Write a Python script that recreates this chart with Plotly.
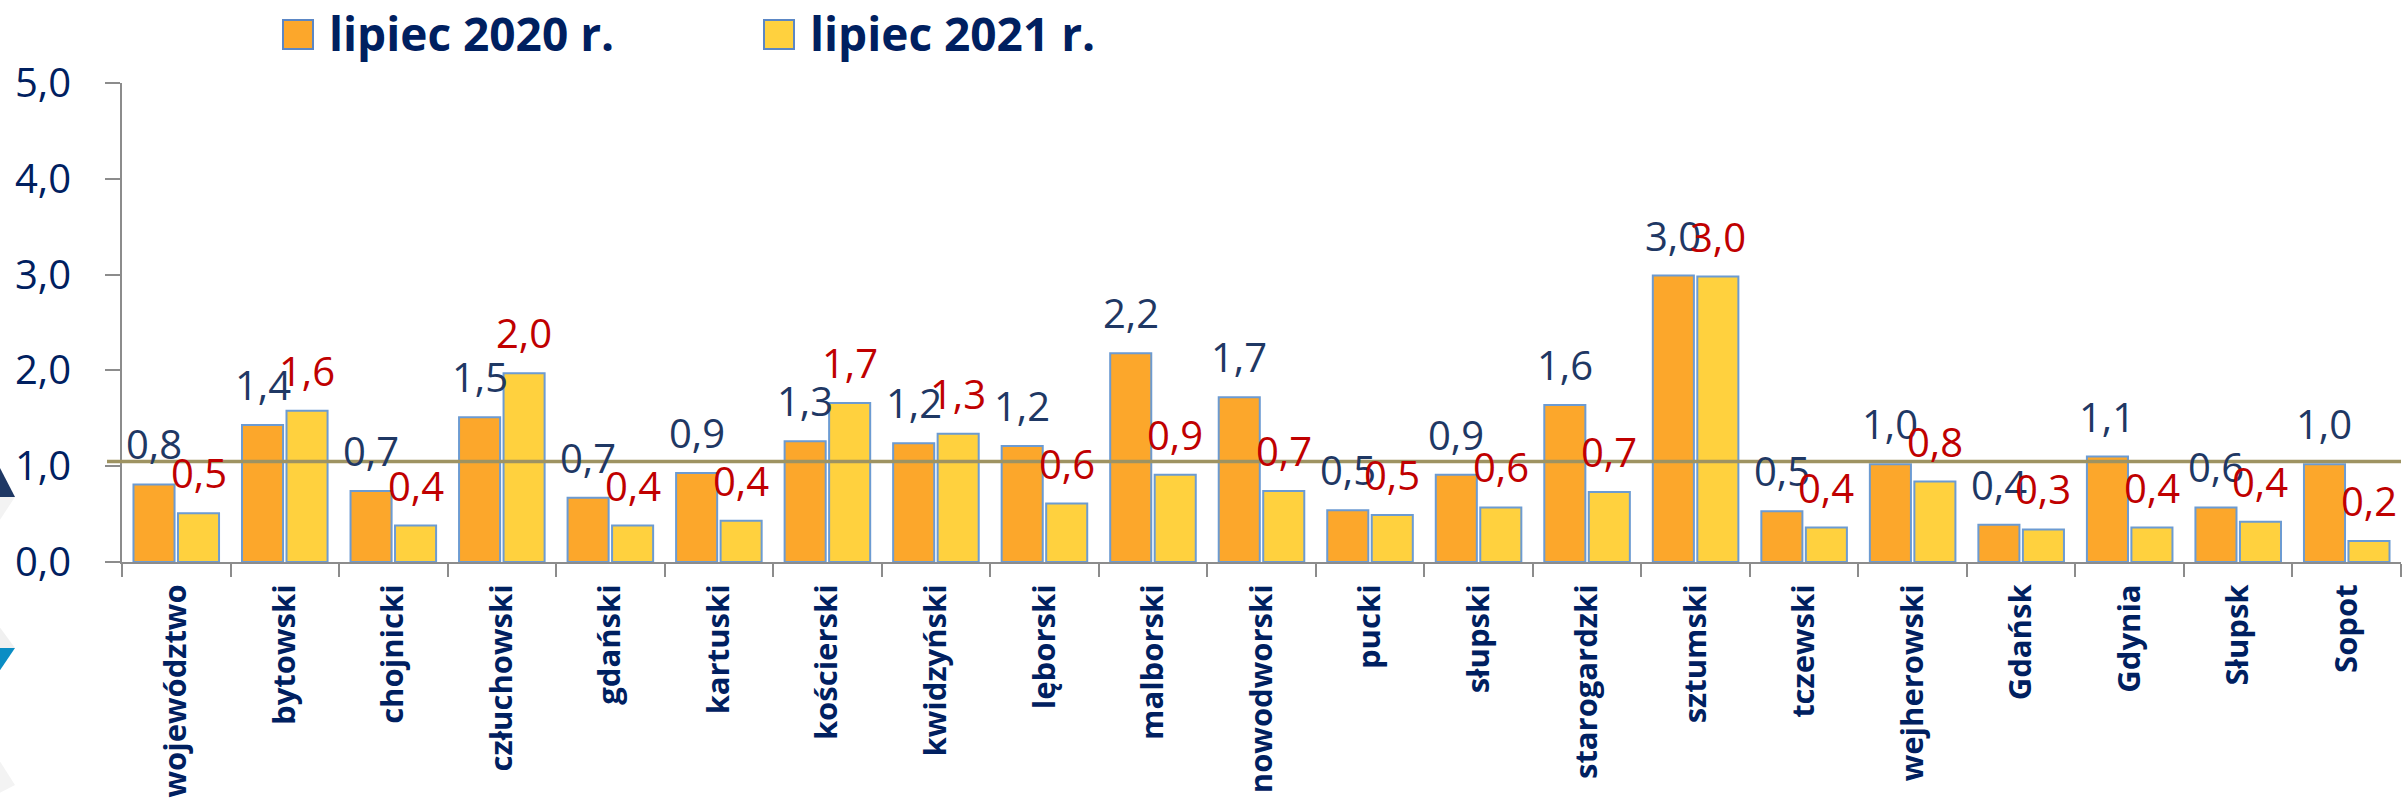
import plotly.graph_objects as go

# ---------------- data ----------------
categories = ["województwo", "bytowski", "chojnicki", "człuchowski", "gdański", "kartuski",
              "kościerski", "kwidzyński", "lęborski", "malborski", "nowodworski", "pucki",
              "słupski", "starogardzki", "sztumski", "tczewski", "wejherowski", "Gdańsk",
              "Gdynia", "Słupsk", "Sopot"]
lipiec_2020 = [0.81, 1.43, 0.74, 1.51, 0.67, 0.93, 1.26, 1.24, 1.21, 2.18, 1.72, 0.54,
               0.91, 1.64, 2.99, 0.53, 1.02, 0.39, 1.10, 0.57, 1.02]
lipiec_2021 = [0.51, 1.58, 0.38, 1.97, 0.38, 0.43, 1.66, 1.34, 0.61, 0.91, 0.74, 0.49,
               0.57, 0.73, 2.98, 0.36, 0.84, 0.34, 0.36, 0.42, 0.22]
series_names = ["lipiec 2020 r.", "lipiec 2021 r."]
reference_level = 1.05
y_ticks = [0, 1, 2, 3, 4, 5]

# ---------------- style ----------------
W, H = 2402, 803
L, R, T, B = 122, 2401, 83, 562          # plot area in pixels
ORANGE, YELLOW = "#FCA72B", "#FFD13E"
OUTLINE = "#6C9BD2"
NAVY = "#002060"
SLATE = "#1F3864"
RED = "#C00000"
AXIS = "#8C8C8C"
OLIVE = "#9E9362"
BARGAP, GROUPGAP = 0.18, 0.077


def px(x):
    return (x - L) / (R - L)


def py(y):
    return (B - y) / (B - T)


def fmt(v):
    return f"{v:.1f}".replace(".", ",")


fig = go.Figure()
for name, vals, col in [(series_names[0], lipiec_2020, ORANGE),
                        (series_names[1], lipiec_2021, YELLOW)]:
    fig.add_trace(go.Bar(
        x=categories, y=vals, name=name,
        marker=dict(color=col, line=dict(color=OUTLINE, width=2)),
        showlegend=False, hoverinfo="x+y",
    ))

# data labels through the axes (centred over each bar)
cat_w = (R - L) / len(categories)
shift = cat_w * (1 - BARGAP) / 4
annotations = []
for vals, col, xs in [(lipiec_2020, SLATE, -shift), (lipiec_2021, RED, shift)]:
    for c, v in zip(categories, vals):
        annotations.append(dict(
            x=c, y=v, xref="x", yref="y", text=fmt(v), showarrow=False,
            xanchor="center", yanchor="bottom", xshift=xs, yshift=11,
            font=dict(family="Open Sans", size=40, color=col),
        ))

# custom legend
shapes = []
for x0, col, name in [(283, ORANGE, series_names[0]), (764, YELLOW, series_names[1])]:
    shapes.append(dict(type="rect", xref="paper", yref="paper",
                       x0=px(x0), x1=px(x0 + 30), y0=py(49), y1=py(20),
                       fillcolor=col, line=dict(color="#5B87C5", width=2), layer="above"))
    annotations.append(dict(x=px(x0 + 44), y=py(33), xref="paper", yref="paper",
                            text=name, showarrow=False, xanchor="left", yanchor="middle",
                            font=dict(family="Open Sans", size=46, color=NAVY, weight="bold")))

# reference line
shapes.append(dict(type="line", xref="paper", yref="y", x0=px(107), x1=1.0,
                   y0=reference_level, y1=reference_level,
                   line=dict(color=OLIVE, width=3.5), layer="above"))

# slide decorations at left edge
def tri(points, color):
    path = "M " + " L ".join(f"{px(a)},{py(b)}" for a, b in points) + " Z"
    return dict(type="path", xref="paper", yref="paper", path=path,
                fillcolor=color, line=dict(width=0), layer="below")

shapes.append(tri([(-30, 410), (15, 497), (-30, 497)], "#1F3864"))
shapes.append(tri([(15, 497), (-20, 550), (-20, 497)], "#F3F3F3"))
shapes.append(tri([(-20, 600), (15, 648), (-20, 648)], "#F0F0F0"))
shapes.append(tri([(-20, 648), (15, 648), (-20, 700)], "#0A8DC4"))
shapes.append(tri([(-20, 730), (15, 785), (-20, 803)], "#F3F3F3"))

fig.update_layout(
    width=W, height=H, autosize=False,
    margin=dict(l=L, r=W - R, t=T, b=H - B, pad=0),
    paper_bgcolor="white", plot_bgcolor="white",
    barmode="group", bargap=BARGAP, bargroupgap=GROUPGAP,
    separators=",.",
    showlegend=False,
    annotations=annotations, shapes=shapes,
    xaxis=dict(
        type="category", showgrid=False, showline=True, linecolor=AXIS, linewidth=2,
        ticks="outside", tickson="boundaries", ticklen=13, tickwidth=2, tickcolor=AXIS,
        tickangle=-90, automargin=False, ticklabelstandoff=8,
        tickfont=dict(family="Open Sans", size=31, color=NAVY, weight="bold"),
        range=[-0.5, len(categories) - 0.5],
    ),
    yaxis=dict(
        range=[0, 5], tickvals=y_ticks, tickformat=".1f", showgrid=False, zeroline=False,
        showline=True, linecolor=AXIS, linewidth=2, ticks="outside", ticklen=15,
        tickwidth=2, tickcolor=AXIS, automargin=False, ticklabelstandoff=26,
        tickfont=dict(family="Open Sans", size=40, color=NAVY),
    ),
)

fig.write_html(
    "out.html",
    config={"displayModeBar": False},
    post_script="document.body.style.margin='0';document.body.style.overflow='hidden';",
)
